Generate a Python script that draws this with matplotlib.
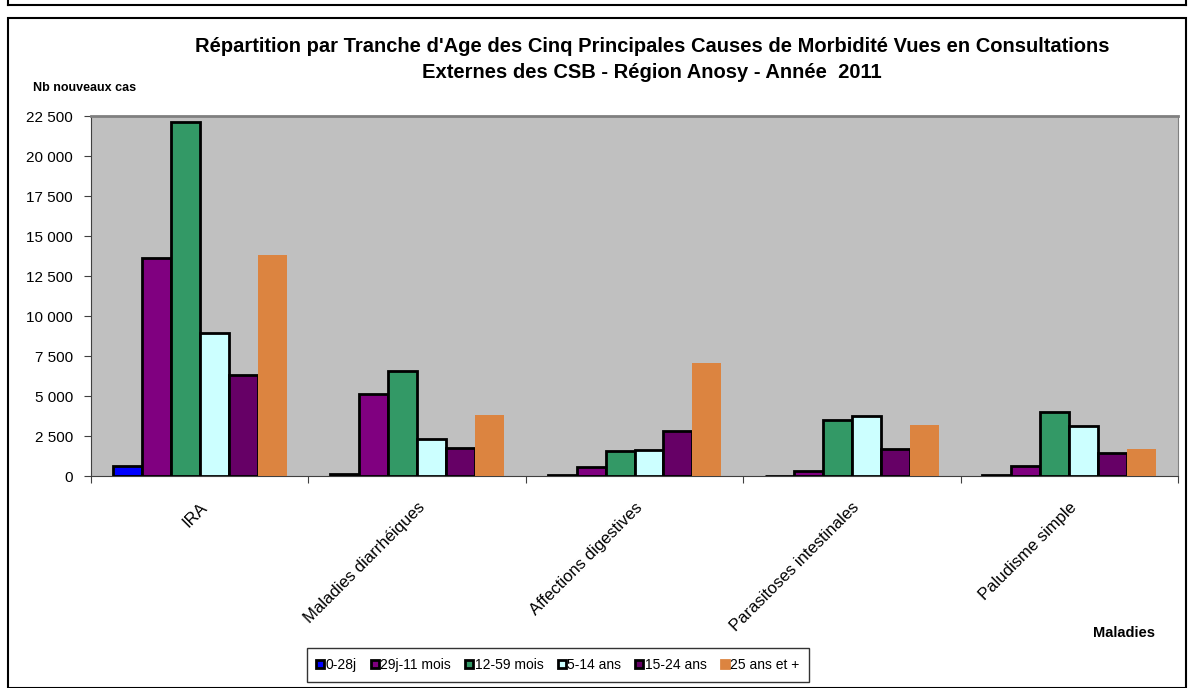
import numpy as np
import matplotlib.pyplot as plt
from matplotlib.patches import Rectangle
from matplotlib.lines import Line2D

plt.rcParams['font.family'] = ['Liberation Sans', 'DejaVu Sans']

maladies = ["IRA", "Maladies diarrhéiques", "Affections digestives",
            "Parasitoses intestinales", "Paludisme simple"]
tranches = ["0-28j", "29j-11 mois", "12-59 mois", "5-14 ans", "15-24 ans", "25 ans et +"]

v_0_28j = [600, 100, 40, 0, 40]
v_29j_11m = [13600, 5150, 580, 320, 600]
v_12_59m = [22100, 6550, 1580, 3470, 4030]
v_5_14 = [8950, 2300, 1620, 3740, 3140]
v_15_24 = [6300, 1760, 2820, 1700, 1430]
v_25plus = [13800, 3800, 7070, 3180, 1690]

series = [v_0_28j, v_29j_11m, v_12_59m, v_5_14, v_15_24, v_25plus]
couleurs = ["#0000FF", "#800080", "#339966", "#CCFFFF", "#660066", "#DC8440"]

fig = plt.figure(figsize=(11.88, 6.88), dpi=100)
ax = fig.add_axes([91 / 1188, 1 - 476 / 688, (1178 - 91) / 1188, 360 / 688])
ax.set_facecolor("#C0C0C0")

n = len(tranches)
w = 1 / (n + 1.5)
x = np.arange(len(maladies))
for i, (vals, c) in enumerate(zip(series, couleurs)):
    pos = x + 0.5 - n * w / 2 + (i + 0.5) * w
    if i == n - 1:
        ax.bar(pos, vals, w, color=c, edgecolor="none", zorder=3)
    else:
        ax.bar(pos, vals, w, color=c, edgecolor="black", linewidth=2, zorder=3)

ax.set_xlim(0, len(maladies))
ax.set_ylim(0, 22500)
ax.set_yticks(np.arange(0, 22501, 2500))
ax.set_yticklabels([f"{v:,}".replace(",", " ") for v in range(0, 22501, 2500)], fontsize=11)
ax.set_xticks(np.arange(0, len(maladies) + 1))
ax.set_xticklabels([])
ax.set_xticks(x + 0.5, minor=True)
ax.set_xticklabels(maladies, minor=True, rotation=45, ha="right",
                   rotation_mode="anchor", fontsize=12)
ax.tick_params(axis="x", which="minor", length=0, pad=17)
ax.tick_params(axis="x", which="major", length=5, color="#404040")
ax.tick_params(axis="y", length=5, color="#404040", pad=8)
ax.spines["top"].set_color("#808080")
ax.spines["right"].set_color("#808080")
ax.spines["top"].set_linewidth(2)
ax.spines["left"].set_color("#404040")
ax.spines["bottom"].set_color("#404040")

fig.text(652 / 1188, 1 - 47 / 688,
         "Répartition par Tranche d'Age des Cinq Principales Causes de Morbidité Vues en Consultations",
         ha="center", va="center", fontsize=14.5, fontweight="bold")
fig.text(652 / 1188, 1 - 72 / 688, "Externes des CSB - Région Anosy - Année  2011",
         ha="center", va="center", fontsize=14.5, fontweight="bold")
fig.text(33 / 1188, 1 - 88 / 688, "Nb nouveaux cas", ha="left", va="center",
         fontsize=9, fontweight="bold")
fig.text(1155 / 1188, 1 - 633 / 688, "Maladies", ha="right", va="center",
         fontsize=10.5, fontweight="bold")

handles = []
for i, c in enumerate(couleurs):
    ec = c if i == n - 1 else "black"
    handles.append(Line2D([], [], marker="s", linestyle="none", markersize=6,
                          markerfacecolor=c, markeredgecolor=ec, markeredgewidth=2))
leg = fig.legend(handles, tranches, loc="center", bbox_to_anchor=(558 / 1188, 1 - 665 / 688),
                 ncol=6, fontsize=10, frameon=True, fancybox=False, handlelength=0.5,
                 handletextpad=0.15, columnspacing=1.05, borderpad=0.7)
leg.get_frame().set_edgecolor("black")
leg.get_frame().set_linewidth(1)

# cadre du graphique
fig.add_artist(Rectangle((8 / 1188, 0), 1178 / 1188, 1 - 18 / 688, transform=fig.transFigure,
                         fill=False, edgecolor="black", linewidth=1.5))
fig.add_artist(Line2D([8 / 1188, 1186 / 1188], [1 - 5 / 688, 1 - 5 / 688],
                      transform=fig.transFigure, color="black", linewidth=1.5))
fig.add_artist(Line2D([8 / 1188, 8 / 1188], [1 - 5 / 688, 1],
                      transform=fig.transFigure, color="black", linewidth=1.5))
fig.add_artist(Line2D([1186 / 1188, 1186 / 1188], [1 - 5 / 688, 1],
                      transform=fig.transFigure, color="black", linewidth=1.5))

fig.savefig("out.png", dpi=100)
